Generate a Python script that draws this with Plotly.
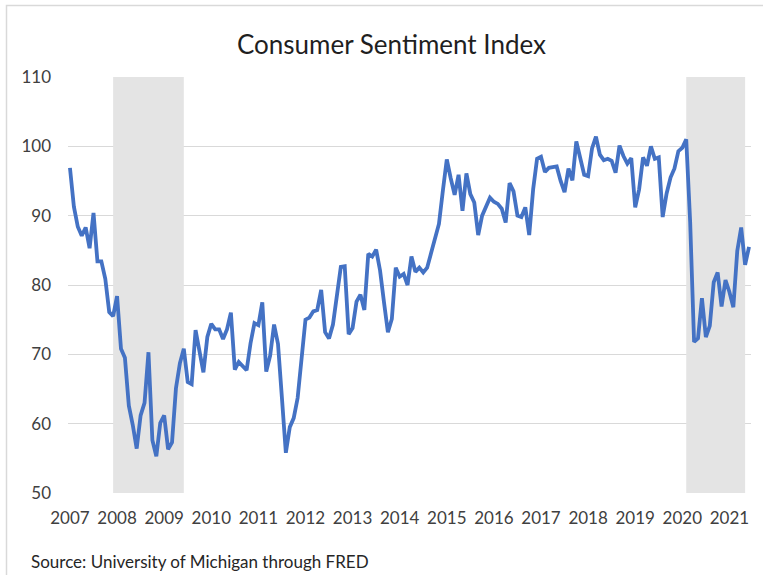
import pandas as pd
import plotly.graph_objects as go

# Monthly Consumer Sentiment Index, Jan 2007 - Jun 2021
months = [d.strftime("%Y-%m") for d in pd.date_range("2007-01-01", "2021-06-01", freq="MS")]
sentiment = [
    96.9, 91.3, 88.4, 87.1, 88.3, 85.3, 90.4, 83.4, 83.4, 80.9, 76.1, 75.5,   # 2007
    78.4, 70.8, 69.5, 62.6, 59.8, 56.4, 61.2, 63.0, 70.3, 57.6, 55.3, 60.1,   # 2008
    61.2, 56.3, 57.3, 65.1, 68.7, 70.8, 66.0, 65.7, 73.5, 70.6, 67.4, 72.5,   # 2009
    74.4, 73.6, 73.6, 72.2, 73.6, 76.0, 67.8, 68.9, 68.2, 67.7, 71.6, 74.5,   # 2010
    74.2, 77.5, 67.5, 69.8, 74.3, 71.5, 63.7, 55.8, 59.5, 60.8, 63.7, 69.9,   # 2011
    75.0, 75.3, 76.2, 76.4, 79.3, 73.2, 72.3, 74.3, 78.3, 82.6, 82.7, 72.9,   # 2012
    73.8, 77.6, 78.6, 76.4, 84.5, 84.1, 85.1, 82.1, 77.5, 73.2, 75.1, 82.5,   # 2013
    81.2, 81.6, 80.0, 84.1, 81.9, 82.5, 81.8, 82.5, 84.6, 86.9, 88.8, 93.6,   # 2014
    98.1, 95.4, 93.0, 95.9, 90.7, 96.1, 93.1, 91.9, 87.2, 90.0, 91.3, 92.6,   # 2015
    92.0, 91.7, 91.0, 89.0, 94.7, 93.5, 90.0, 89.8, 91.2, 87.2, 93.8, 98.2,   # 2016
    98.5, 96.3, 96.9, 97.0, 97.1, 95.0, 93.4, 96.8, 95.1, 100.7, 98.5, 95.9,  # 2017
    95.7, 99.7, 101.4, 98.8, 98.0, 98.2, 97.9, 96.2, 100.1, 98.6, 97.5, 98.3, # 2018
    91.2, 93.8, 98.4, 97.2, 100.0, 98.2, 98.4, 89.8, 93.2, 95.5, 96.8, 99.3,  # 2019
    99.8, 101.0, 89.1, 71.8, 72.3, 78.1, 72.5, 74.1, 80.4, 81.8, 76.9, 80.7,  # 2020
    79.0, 76.8, 84.9, 88.3, 82.9, 85.5,                                       # 2021
]
recession_starts = ["2007-12", "2020-02"]
recession_ends = ["2009-06", "2021-05"]
tick_months = [m for m in months if m.endswith("-01")]
tick_labels = [m[:4] for m in tick_months]
y_ticks = [50, 60, 70, 80, 90, 100, 110]

W, H = 763, 575
L, R, T, B = 68, 12, 77, 82
pw, ph = W - L - R, H - T - B

fig = go.Figure()
fig.add_trace(go.Scatter(
    x=months, y=sentiment, mode="lines",
    line=dict(color="#4472C4", width=3.8), hoverinfo="x+y",
))

shapes = []
for s, e in zip(recession_starts, recession_ends):
    shapes.append(dict(
        type="rect", xref="x", yref="y", layer="between",
        x0=months.index(s), x1=months.index(e), y0=50, y1=110,
        fillcolor="#E4E4E4", line=dict(width=0),
    ))
# outer chart frame
def px_x(p):
    return (p - L) / pw
def px_y(p):
    return (H - B - p) / ph
shapes.append(dict(
    type="rect", xref="paper", yref="paper", layer="above",
    x0=px_x(6.5), x1=px_x(766), y0=px_y(5.5), y1=px_y(580),
    line=dict(color="#D9D9D9", width=1.5), fillcolor="rgba(0,0,0,0)",
))

fig.update_layout(
    width=W, height=H,
    margin=dict(l=L, r=R, t=T, b=B),
    paper_bgcolor="white", plot_bgcolor="white",
    showlegend=False,
    shapes=shapes,
    font=dict(family="Lato, Liberation Sans, sans-serif", color="#404040"),
    annotations=[
        dict(text="Consumer Sentiment Index", xref="paper", yref="paper",
             x=px_x(391.5), y=px_y(44), xanchor="center", yanchor="middle",
             showarrow=False, font=dict(size=26, color="#1f1f1f")),
        dict(text="Source: University of Michigan through FRED", xref="paper", yref="paper",
             x=px_x(29), y=px_y(561), xanchor="left", yanchor="middle",
             showarrow=False, font=dict(size=17, color="#262626")),
    ],
)
fig.update_xaxes(
    type="category", categoryorder="array", categoryarray=months,
    range=[-0.5, len(months) - 0.5],
    tickvals=tick_months, ticktext=tick_labels, tickangle=0,
    showgrid=False, showline=False, zeroline=False, ticks="",
    tickfont=dict(size=17), ticklabelstandoff=13,
)
fig.update_yaxes(
    range=[50, 110], tickvals=y_ticks,
    showgrid=True, gridcolor="#D9D9D9", gridwidth=1.2,
    showline=False, zeroline=False, ticks="",
    tickfont=dict(size=17), ticklabelstandoff=16,
)

fig.write_html(
    "out.html",
    config={"displayModeBar": False},
    post_script="document.body.style.margin='0';document.body.style.overflow='hidden';",
)
